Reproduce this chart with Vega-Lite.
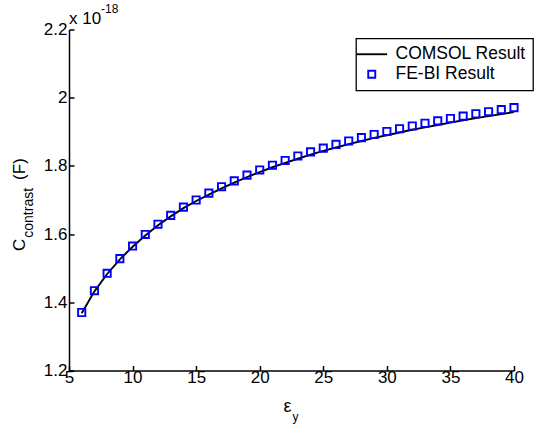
{
  "$schema": "https://vega.github.io/schema/vega-lite/v6.json",
  "width": 445,
  "height": 341,
  "autosize": {"type": "none"},
  "padding": {"left": 69, "top": 29.5, "right": 25, "bottom": 61.5},
  "background": "white",
  "config": {
    "font": "Liberation Sans",
    "view": {"stroke": null},
    "axis": {
      "grid": false,
      "domainColor": "black",
      "domainWidth": 1.5,
      "tickColor": "black",
      "tickWidth": 1.5,
      "tickSize": -5,
      "labelFont": "Liberation Sans",
      "labelFontSize": 17,
      "labelColor": "black",
      "title": null
    },
    "legend": {"strokeWidth": 1.3},
    "text": {"font": "Liberation Sans", "color": "black"}
  },
  "datasets": {
    "curves": [
      {"eps_y": 6, "C": 1.370, "series": "FE-BI Result"},
      {"eps_y": 7, "C": 1.434, "series": "FE-BI Result"},
      {"eps_y": 8, "C": 1.485, "series": "FE-BI Result"},
      {"eps_y": 9, "C": 1.528, "series": "FE-BI Result"},
      {"eps_y": 10, "C": 1.565, "series": "FE-BI Result"},
      {"eps_y": 11, "C": 1.599, "series": "FE-BI Result"},
      {"eps_y": 12, "C": 1.629, "series": "FE-BI Result"},
      {"eps_y": 13, "C": 1.655, "series": "FE-BI Result"},
      {"eps_y": 14, "C": 1.679, "series": "FE-BI Result"},
      {"eps_y": 15, "C": 1.700, "series": "FE-BI Result"},
      {"eps_y": 16, "C": 1.720, "series": "FE-BI Result"},
      {"eps_y": 17, "C": 1.739, "series": "FE-BI Result"},
      {"eps_y": 18, "C": 1.756, "series": "FE-BI Result"},
      {"eps_y": 19, "C": 1.773, "series": "FE-BI Result"},
      {"eps_y": 20, "C": 1.788, "series": "FE-BI Result"},
      {"eps_y": 21, "C": 1.802, "series": "FE-BI Result"},
      {"eps_y": 22, "C": 1.816, "series": "FE-BI Result"},
      {"eps_y": 23, "C": 1.829, "series": "FE-BI Result"},
      {"eps_y": 24, "C": 1.841, "series": "FE-BI Result"},
      {"eps_y": 25, "C": 1.852, "series": "FE-BI Result"},
      {"eps_y": 26, "C": 1.863, "series": "FE-BI Result"},
      {"eps_y": 27, "C": 1.873, "series": "FE-BI Result"},
      {"eps_y": 28, "C": 1.883, "series": "FE-BI Result"},
      {"eps_y": 29, "C": 1.892, "series": "FE-BI Result"},
      {"eps_y": 30, "C": 1.901, "series": "FE-BI Result"},
      {"eps_y": 31, "C": 1.909, "series": "FE-BI Result"},
      {"eps_y": 32, "C": 1.917, "series": "FE-BI Result"},
      {"eps_y": 33, "C": 1.925, "series": "FE-BI Result"},
      {"eps_y": 34, "C": 1.932, "series": "FE-BI Result"},
      {"eps_y": 35, "C": 1.939, "series": "FE-BI Result"},
      {"eps_y": 36, "C": 1.946, "series": "FE-BI Result"},
      {"eps_y": 37, "C": 1.953, "series": "FE-BI Result"},
      {"eps_y": 38, "C": 1.959, "series": "FE-BI Result"},
      {"eps_y": 39, "C": 1.965, "series": "FE-BI Result"},
      {"eps_y": 40, "C": 1.971, "series": "FE-BI Result"},
      {"eps_y": 6, "C": 1.368, "series": "COMSOL Result"},
      {"eps_y": 7, "C": 1.432, "series": "COMSOL Result"},
      {"eps_y": 8, "C": 1.483, "series": "COMSOL Result"},
      {"eps_y": 9, "C": 1.526, "series": "COMSOL Result"},
      {"eps_y": 10, "C": 1.563, "series": "COMSOL Result"},
      {"eps_y": 11, "C": 1.596, "series": "COMSOL Result"},
      {"eps_y": 12, "C": 1.626, "series": "COMSOL Result"},
      {"eps_y": 13, "C": 1.652, "series": "COMSOL Result"},
      {"eps_y": 14, "C": 1.676, "series": "COMSOL Result"},
      {"eps_y": 15, "C": 1.697, "series": "COMSOL Result"},
      {"eps_y": 16, "C": 1.716, "series": "COMSOL Result"},
      {"eps_y": 17, "C": 1.734, "series": "COMSOL Result"},
      {"eps_y": 18, "C": 1.751, "series": "COMSOL Result"},
      {"eps_y": 19, "C": 1.767, "series": "COMSOL Result"},
      {"eps_y": 20, "C": 1.782, "series": "COMSOL Result"},
      {"eps_y": 21, "C": 1.796, "series": "COMSOL Result"},
      {"eps_y": 22, "C": 1.809, "series": "COMSOL Result"},
      {"eps_y": 23, "C": 1.821, "series": "COMSOL Result"},
      {"eps_y": 24, "C": 1.833, "series": "COMSOL Result"},
      {"eps_y": 25, "C": 1.844, "series": "COMSOL Result"},
      {"eps_y": 26, "C": 1.854, "series": "COMSOL Result"},
      {"eps_y": 27, "C": 1.864, "series": "COMSOL Result"},
      {"eps_y": 28, "C": 1.873, "series": "COMSOL Result"},
      {"eps_y": 29, "C": 1.882, "series": "COMSOL Result"},
      {"eps_y": 30, "C": 1.890, "series": "COMSOL Result"},
      {"eps_y": 31, "C": 1.898, "series": "COMSOL Result"},
      {"eps_y": 32, "C": 1.906, "series": "COMSOL Result"},
      {"eps_y": 33, "C": 1.913, "series": "COMSOL Result"},
      {"eps_y": 34, "C": 1.920, "series": "COMSOL Result"},
      {"eps_y": 35, "C": 1.927, "series": "COMSOL Result"},
      {"eps_y": 36, "C": 1.934, "series": "COMSOL Result"},
      {"eps_y": 37, "C": 1.940, "series": "COMSOL Result"},
      {"eps_y": 38, "C": 1.946, "series": "COMSOL Result"},
      {"eps_y": 39, "C": 1.952, "series": "COMSOL Result"},
      {"eps_y": 40, "C": 1.958, "series": "COMSOL Result"}
    ]
  },
  "layer": [
    {
      "data": {"name": "curves"},
      "transform": [{"filter": "datum.series === 'COMSOL Result'"}],
      "mark": {"type": "line", "strokeWidth": 1.9},
      "encoding": {
        "x": {
          "field": "eps_y", "type": "quantitative",
          "scale": {"domain": [5, 40], "nice": false, "zero": false},
          "axis": {"values": [5, 10, 15, 20, 25, 30, 35, 40], "labelPadding": 4, "labelFlush": false}
        },
        "y": {
          "field": "C", "type": "quantitative",
          "scale": {"domain": [1.2, 2.2], "nice": false, "zero": false},
          "axis": {"values": [1.2, 1.4, 1.6, 1.8, 2, 2.2], "format": "~g", "labelPadding": 7}
        },
        "color": {
          "field": "series", "type": "nominal",
          "scale": {"domain": ["COMSOL Result", "FE-BI Result"], "range": ["black", "#0000ff"]},
          "legend": {
            "title": null,
            "orient": "none",
            "legendX": 287,
            "legendY": 9,
            "fillColor": "white",
            "strokeColor": "black",
            "padding": 7,
            "rowPadding": 1,
            "labelFont": "Liberation Sans",
            "labelFontSize": 17.5,
            "labelColor": "black",
            "labelOffset": 15,
            "labelExpr": "datum.label + '\u00a0\u00a0\u00a0'",
            "symbolStrokeWidth": 1.9,
            "symbolSize": 49,
            "symbolFillColor": "transparent"
          }
        }
      }
    },
    {
      "data": {"name": "curves"},
      "transform": [{"filter": "datum.series === 'FE-BI Result'"}],
      "mark": {"type": "point", "filled": false, "strokeWidth": 1.9, "size": 52, "opacity": 1},
      "encoding": {
        "x": {"field": "eps_y", "type": "quantitative"},
        "y": {"field": "C", "type": "quantitative"},
        "color": {"field": "series", "type": "nominal"},
        "shape": {
          "field": "series", "type": "nominal",
          "scale": {"domain": ["COMSOL Result", "FE-BI Result"], "range": ["M-4.4,0H4.4", "square"]}
        }
      }
    },
    {
      "data": {"values": [{}]},
      "mark": {"type": "text", "text": "x 10", "fontSize": 17, "align": "left", "baseline": "alphabetic", "dy": -5.5},
      "encoding": {"x": {"datum": 5, "type": "quantitative"}, "y": {"datum": 2.2, "type": "quantitative"}}
    },
    {
      "data": {"values": [{}]},
      "mark": {"type": "text", "text": "-18", "fontSize": 12, "align": "left", "baseline": "alphabetic", "dx": 32, "dy": -16.5},
      "encoding": {"x": {"datum": 5, "type": "quantitative"}, "y": {"datum": 2.2, "type": "quantitative"}}
    },
    {
      "data": {"values": [{}]},
      "mark": {"type": "text", "text": "C", "fontSize": 17, "angle": 270, "align": "left", "baseline": "alphabetic", "dy": -44},
      "encoding": {"x": {"datum": 5, "type": "quantitative"}, "y": {"datum": 1.5504, "type": "quantitative"}}
    },
    {
      "data": {"values": [{}]},
      "mark": {"type": "text", "text": "contrast", "fontSize": 14, "angle": 270, "align": "left", "baseline": "alphabetic", "dy": -36},
      "encoding": {"x": {"datum": 5, "type": "quantitative"}, "y": {"datum": 1.5894, "type": "quantitative"}}
    },
    {
      "data": {"values": [{}]},
      "mark": {"type": "text", "text": "(F)", "fontSize": 17, "angle": 270, "align": "left", "baseline": "alphabetic", "dy": -44},
      "encoding": {"x": {"datum": 5, "type": "quantitative"}, "y": {"datum": 1.759, "type": "quantitative"}}
    },
    {
      "data": {"values": [{}]},
      "mark": {"type": "text", "text": "ε", "fontSize": 18, "align": "right", "baseline": "alphabetic", "dy": 41.7},
      "encoding": {"x": {"datum": 22.5, "type": "quantitative"}, "y": {"datum": 1.2, "type": "quantitative"}}
    },
    {
      "data": {"values": [{}]},
      "mark": {"type": "text", "text": "y", "fontSize": 12, "align": "left", "baseline": "alphabetic", "dx": 1, "dy": 50},
      "encoding": {"x": {"datum": 22.5, "type": "quantitative"}, "y": {"datum": 1.2, "type": "quantitative"}}
    }
  ]
}
